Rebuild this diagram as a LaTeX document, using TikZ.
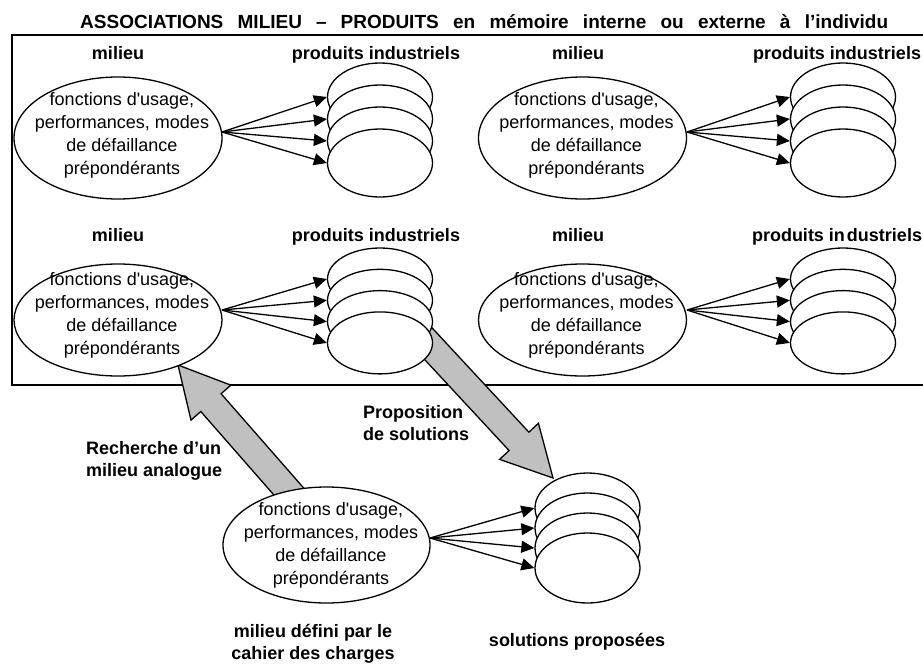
\documentclass[tikz,border=0pt]{standalone}
\usepackage{fontspec}
\setmainfont{Liberation Sans}
\usetikzlibrary{calc,arrows.meta,shapes.geometric}
\definecolor{arrgray}{HTML}{C0C0C0}
\tikzset{
  mil/.style={draw, ellipse, line width=1.3pt, fill=white, minimum width=208pt, inner sep=0pt},
  miltext/.style={align=center, inner sep=0pt, font=\fontsize{18}{23}\selectfont},
  stackell/.style={draw, ellipse, line width=1.3pt, fill=white, minimum width=105pt, inner sep=0pt},
  lab/.style={inner sep=0pt, font=\fontsize{18}{22}\selectfont\bfseries},
  arr/.style={line width=1.3pt, -{Triangle[length=13pt,width=12pt]}},
  frame/.style={line width=1.5pt},
  fatarr/.style={fill=arrgray, draw=black, line width=1.3pt, line join=miter}
}
\newcommand{\fatarrow}[2]{%
  \path ($(#2)!50pt!(#1)$) coordinate (fab);
  \filldraw[fatarr] ($(#1)!13.5pt!90:(#2)$) -- ($(fab)!13.5pt!90:(#2)$) -- ($(fab)!26.5pt!90:(#2)$) -- (#2) -- ($(fab)!26.5pt!-90:(#2)$) -- ($(fab)!13.5pt!-90:(#2)$) -- ($(#1)!13.5pt!-90:(#2)$) -- cycle;}
\newcommand{\pstack}[5]{% name, cx, first centre y, step, ry
  \foreach \k in {1,2,3,4} {
    \node[stackell, minimum height=2*#5 pt] (#1\k) at (#2, {#3+(\k-1)*#4}) {};
  }}
\newcommand{\milieutext}{fonctions d\textquotesingle usage,\\performances, modes\\de défaillance\\prépondérants}
\begin{document}
\begin{tikzpicture}[x=1pt, y=-1pt]
\path[use as bounding box] (0,0) rectangle (923,664);
\clip (0,0) rectangle (923,664);

% title
\node[lab, font=\fontsize{19}{22}\selectfont\bfseries, anchor=base west] (title) at (80,28)
  {\makebox[808pt][s]{ASSOCIATIONS MILIEU\hspace{14pt}–\hspace{14pt}PRODUITS en mémoire interne ou externe à l’individu}};

% frame
\draw[frame] (12,35) rectangle (940,385);

% bottom stack (under the big arrow tip)
\pstack{s5}{587.5}{508}{20}{35}

% big grey arrows
\coordinate (ptail) at (385,297);
\coordinate (ptip) at (553,478);
\coordinate (rtail) at (312,518);
\coordinate (rtip) at (178,365);
\fatarrow{ptail}{ptip}
\fatarrow{rtail}{rtip}

% milieu ellipses
\node[mil, minimum height=122pt] (m1) at (118,138) {};
\node[mil, minimum height=122pt] (m2) at (582.5,138) {};
\node[mil, minimum height=112pt] (m3) at (118,320) {};
\node[mil, minimum height=112pt] (m4) at (582.5,320) {};
\node[mil, minimum height=116pt, minimum width=207pt] (m5) at (326.5,545) {};

\node[miltext] (t1) at (122,135) {\milieutext};
\node[miltext] (t2) at (586.5,135) {\milieutext};
\node[miltext] (t3) at (122,315) {\milieutext};
\node[miltext] (t4) at (586.5,315) {\milieutext};
\node[miltext] (t5) at (331,545) {\milieutext};

% stacks
\pstack{s1}{380}{97}{22}{34}
\pstack{s2}{843}{97}{22}{34}
\pstack{s3}{380}{279}{21.3}{31}
\pstack{s4}{843}{279}{21.3}{31}

% convergence points
\coordinate (c1) at (222,132);
\coordinate (c2) at (687,132);
\coordinate (c3) at (222,310);
\coordinate (c4) at (687,310);
\coordinate (c5) at (430,538);

\foreach \s in {1,2,3,4,5} {
  \foreach \k in {1,2,3,4} {
    \draw[arr] (c\s) -- (s\s\k.west);
  }
}

% labels
\node[lab, anchor=base] (l1) at (118,59) {milieu};
\node[lab, anchor=base] (l2) at (578,59) {milieu};
\node[lab, anchor=base] (l3) at (118,241) {milieu};
\node[lab, anchor=base] (l4) at (578,241) {milieu};
\node[lab, anchor=base] (p1) at (376,59) {produits industriels};
\node[lab, anchor=base] (p2) at (837,59) {produits industriels};
\node[lab, anchor=base] (p3) at (376,241) {produits industriels};
\node[lab, anchor=base] (p4) at (837,241) {produits in\kern2pt dustriels};

\node[lab, align=left, anchor=west] (rech) at (86,461) {Recherche d’un\\milieu analogue};
\node[lab, align=left, anchor=west] (prop) at (363,423) {Proposition\\de solutions};
\node[lab, align=center] (cdc) at (313,644) {milieu défini par le\\cahier des charges};
\node[lab, anchor=base] (sol) at (577,646) {solutions proposées};
\end{tikzpicture}
\end{document}
